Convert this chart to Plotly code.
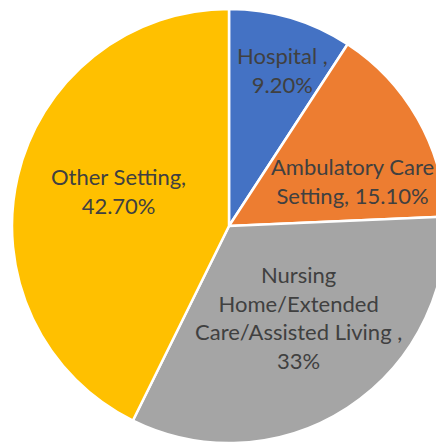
import plotly.graph_objects as go

categories = ["Hospital", "Ambulatory Care Setting", "Nursing Home/Extended Care/Assisted Living", "Other Setting"]
values = [9.2, 15.1, 33.0, 42.7]
label_texts = ["Hospital ,<br>9.20%", "Ambulatory Care<br>Setting, 15.10%",
               "Nursing<br>Home/Extended<br>Care/Assisted Living ,<br>33%", "Other Setting,<br>42.70%"]
colors = ["#4472C4", "#ED7D31", "#A5A5A5", "#FFC000"]
# label centers in page pixels (x, y from top)
label_pos = [(282, 70), (352, 181), (298, 317), (118, 191)]

W = H = 444
OFF = 8  # page body margin
fig = go.Figure(go.Pie(
    labels=categories, values=values, sort=False, direction="clockwise", rotation=0,
    marker=dict(colors=colors, line=dict(color="white", width=2.5)),
    textinfo="none", hoverinfo="skip",
    domain=dict(x=[4 / W, 438 / W], y=[9 / H, 443 / H]),
))
for t, (px, py) in zip(label_texts, label_pos):
    fig.add_annotation(x=(px - OFF) / W, y=1 - (py - OFF) / H, xref="paper", yref="paper", text=t,
                       showarrow=False, align="center", xanchor="center", yanchor="middle",
                       font=dict(family="Lato", size=22, color="#404040"))
fig.update_layout(width=W, height=H, margin=dict(l=0, r=0, t=0, b=0),
                  showlegend=False, paper_bgcolor="white", plot_bgcolor="white")
fig.write_html("out.html")
